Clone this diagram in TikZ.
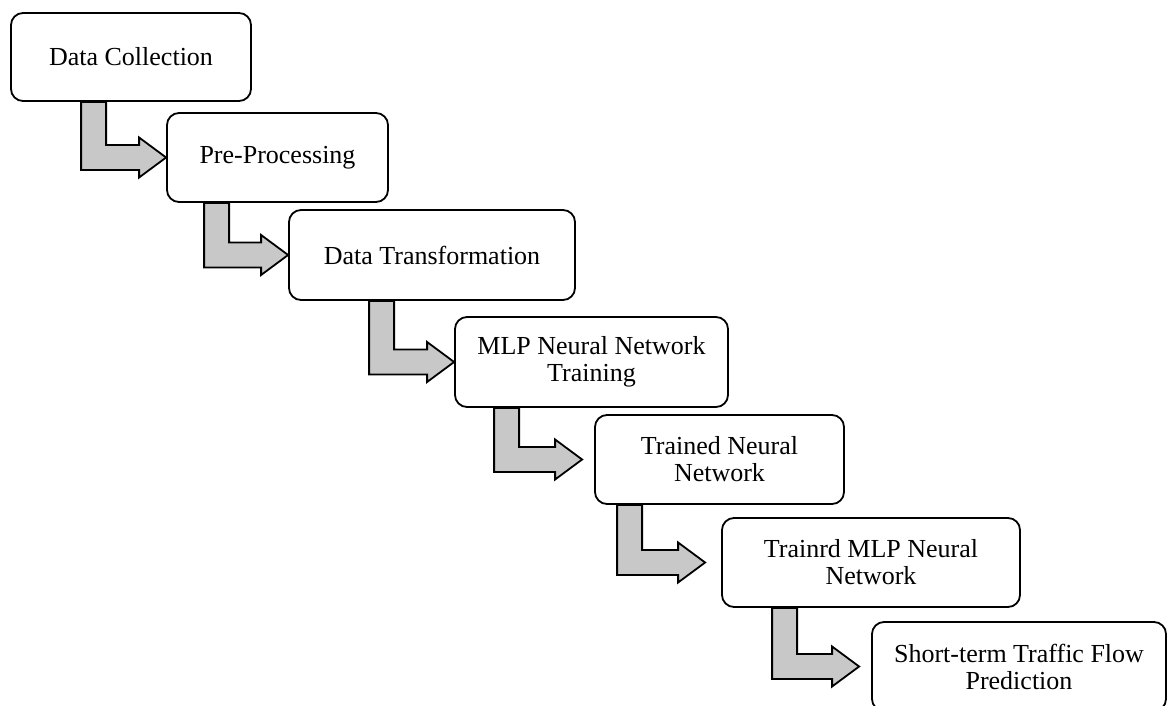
\documentclass[tikz,border=0pt]{standalone}
\usepackage{fontspec}
\setmainfont{Liberation Serif}
\usetikzlibrary{calc}

\definecolor{arrowgray}{RGB}{200,200,200}

\tikzset{
  stage/.style={draw, line width=1.8pt, rounded corners=12pt, fill=white,
    align=center, inner sep=0pt, font=\fontsize{26}{27}\selectfont},
  flowarr/.style={draw, line width=1.8pt, fill=arrowgray, line join=miter}
}

% bent block arrow: from node, to node, stem offset, gap before target
\newcommand{\flowarrow}[4]{%
  \draw[flowarr] let \p1=($(#1.south west)+(#3,0)$), \p2=($(#2.west)+(-#4,0)$) in
    (\x1,\y1) -- (\x1,\y2-12.5pt) -- (\x2-27pt,\y2-12.5pt) -- (\x2-27pt,\y2-20pt)
    -- (\x2,\y2) -- (\x2-27pt,\y2+20pt) -- (\x2-27pt,\y2+12.5pt)
    -- (\x1+25pt,\y2+12.5pt) -- (\x1+25pt,\y1) -- cycle;}

\begin{document}
\begin{tikzpicture}[x=1pt, y=-1pt]
\clip (0,0) rectangle (1167,706);
\node[stage, minimum width=240pt, minimum height=88pt] (collect) at (131,57) {Data Collection};
\node[stage, minimum width=221pt, minimum height=89pt] (prep) at (277.5,157.5) {Pre-Processing};
\node[stage, minimum width=286pt, minimum height=90pt] (transf) at (432,255) {Data Transformation};
\node[stage, minimum width=273pt, minimum height=90pt] (mlptrain) at (591.5,362) {MLP Neural Network\\Training};
\node[stage, minimum width=249pt, minimum height=89pt] (trained) at (719.5,459.5) {Trained Neural\\Network};
\node[stage, minimum width=298pt, minimum height=89pt] (trainrd) at (871,562.5) {Trainrd MLP Neural\\Network};
\node[stage, minimum width=294pt, minimum height=89pt] (predict) at (1019,666.5) {Short-term Traffic Flow\\Prediction};

\flowarrow{collect}{prep}{71}{0}
\flowarrow{prep}{transf}{38}{0}
\flowarrow{transf}{mlptrain}{81}{0}
\flowarrow{mlptrain}{trained}{40}{12}
\flowarrow{trained}{trainrd}{23}{16}
\flowarrow{trainrd}{predict}{51}{12}
\end{tikzpicture}
\end{document}
